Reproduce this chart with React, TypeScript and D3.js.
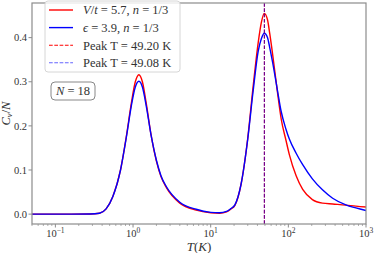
import React from 'react';
import * as d3 from 'd3';

// temperatures (K) and specific heat per site
const temps = [0.05, 0.16, 0.28, 0.37, 0.45, 0.55, 0.69, 0.82, 0.95, 1.07, 1.19, 1.32, 1.48, 1.72, 2.0, 2.29, 2.69, 4.0, 6.5, 10, 13, 16, 18, 20.5, 24.5, 30, 35, 41, 45, 49, 54, 57.5, 63, 72, 81, 93, 103, 126, 153, 204, 275, 372, 550, 741, 1000];
const cvRed = [0, 0, 0.0003, 0.002, 0.012, 0.04, 0.1, 0.176, 0.251, 0.3, 0.316, 0.3, 0.251, 0.176, 0.12, 0.085, 0.06, 0.025, 0.009, 0.003, 0.002, 0.005, 0.011, 0.02, 0.066, 0.172, 0.285, 0.39, 0.435, 0.455, 0.44, 0.41, 0.36, 0.28, 0.215, 0.168, 0.135, 0.087, 0.056, 0.033, 0.025, 0.023, 0.0205, 0.018, 0.016];
const cvBlue = [0, 0, 0.0003, 0.002, 0.012, 0.04, 0.1, 0.174, 0.245, 0.288, 0.301, 0.288, 0.245, 0.176, 0.122, 0.087, 0.062, 0.027, 0.011, 0.004, 0.003, 0.006, 0.012, 0.021, 0.066, 0.17, 0.275, 0.37, 0.398, 0.41, 0.4, 0.378, 0.342, 0.283, 0.232, 0.193, 0.17, 0.138, 0.112, 0.08, 0.055, 0.036, 0.021, 0.014, 0.008];
const peakRed = 49.2;
const peakBlue = 49.08;
const yTicks = [0.0, 0.1, 0.2, 0.3, 0.4];
const xTicks = [0.1, 1, 10, 100, 1000];
const xTickExp = ['\u22121', '0', '1', '2', '3'];

const W = 374, H = 253;
const margin = {left: 32, right: 8, top: 3, bottom: 29};
const font = '"Liberation Serif", "DejaVu Serif", serif';
const axisColor = '#8c8c8c';

export default function App() {
  const x = d3.scaleLog().domain([0.05, 1000]).range([margin.left, W - margin.right]);
  const y = d3.scaleLinear().domain([-0.0224, 0.4785]).range([H - margin.bottom, margin.top]);

  const line = d3.line<number>()
    .x((d, i) => x(temps[i]))
    .y(d => y(d))
    .curve(d3.curveMonotoneX);

  // minor ticks on the log axis
  const minor: number[] = [];
  for (let e = -2; e < 3; e++) {
    for (let k = 2; k < 10; k++) {
      const v = k * Math.pow(10, e);
      if (v >= 0.05 && v <= 1000) minor.push(v);
    }
  }

  const bottom = H - margin.bottom;
  const legendRows = [
    {label: 'red', dash: null, text: (<><tspan fontStyle="italic">V</tspan>/<tspan fontStyle="italic">t</tspan> = 5.7, <tspan fontStyle="italic">n</tspan> = 1/3</>)},
    {label: 'blue', dash: null, text: (<><tspan fontStyle="italic">ϵ</tspan> = 3.9, <tspan fontStyle="italic">n</tspan> = 1/3</>)},
    {label: 'red', dash: '3.7,1.6', text: (<>Peak T = {peakRed.toFixed(2)} K</>)},
    {label: 'blue', dash: '3.7,1.6', text: (<>Peak T = {peakBlue.toFixed(2)} K</>)},
  ];

  return (
    <svg width={W} height={H} style={{position: 'absolute', left: 0, top: 0}} fontFamily={font}>
      <rect width={W} height={H} fill="white" />
      <defs>
        <clipPath id="plot">
          <rect x={margin.left} y={margin.top} width={W - margin.left - margin.right} height={bottom - margin.top} />
        </clipPath>
      </defs>
      <g clipPath="url(#plot)">
        <path d={line(cvRed) || ''} fill="none" stroke="red" strokeWidth={1.4} />
        <path d={line(cvBlue) || ''} fill="none" stroke="blue" strokeWidth={1.4} />
        <line x1={x(peakRed)} x2={x(peakRed)} y1={margin.top} y2={bottom} stroke="red" strokeWidth={1.1} strokeDasharray="3.7,1.6" />
        <line x1={x(peakBlue)} x2={x(peakBlue)} y1={margin.top} y2={bottom} stroke="blue" strokeWidth={1.1} strokeDasharray="3.7,1.6" opacity={0.6} />
      </g>

      {/* frame */}
      <rect x={margin.left} y={margin.top} width={W - margin.left - margin.right} height={bottom - margin.top} fill="none" stroke={axisColor} strokeWidth={1.2} />

      {/* y ticks */}
      {yTicks.map(t => (
        <g key={t}>
          <line x1={margin.left - 3.5} x2={margin.left} y1={y(t)} y2={y(t)} stroke={axisColor} strokeWidth={1} />
          <text x={margin.left - 5} y={y(t)} dy="0.35em" textAnchor="end" fontSize={10.5} fill="#333">{t.toFixed(1)}</text>
        </g>
      ))}
      {/* x ticks */}
      {minor.map(t => (
        <line key={'m' + t} x1={x(t)} x2={x(t)} y1={bottom} y2={bottom + 2} stroke={axisColor} strokeWidth={0.7} />
      ))}
      {xTicks.map((t, i) => (
        <g key={t}>
          <line x1={x(t)} x2={x(t)} y1={bottom} y2={bottom + 3.5} stroke={axisColor} strokeWidth={1} />
          <text x={x(t)} y={bottom + 13} textAnchor="middle" fontSize={10.5} fill="#333">
            10<tspan dy={-4} fontSize={7.5}>{xTickExp[i]}</tspan>
          </text>
        </g>
      ))}

      {/* axis labels */}
      <text x={(margin.left + W - margin.right) / 2} y={H - 2} textAnchor="middle" fontSize={13} fill="#333">
        <tspan fontStyle="italic">T</tspan>(<tspan fontStyle="italic">K</tspan>)
      </text>
      <text transform={`translate(10,${(margin.top + bottom) / 2}) rotate(-90)`} textAnchor="middle" fontSize={12.5} fill="#333">
        <tspan fontStyle="italic">C</tspan><tspan fontStyle="italic" fontSize={8.5} dy={2}>v</tspan><tspan dy={-2}>/</tspan><tspan fontStyle="italic">N</tspan>
      </text>

      {/* legend */}
      <rect x={45} y={1} width={135} height={71} rx={3} fill="white" fillOpacity={0.8} stroke="#d6d6d6" strokeWidth={1} />
      {legendRows.map((r, i) => {
        const ly = 10 + i * 17.6;
        return (
          <g key={i}>
            <line x1={49} x2={73} y1={ly} y2={ly} stroke={r.label} strokeWidth={r.dash ? 1.1 : 1.4} strokeDasharray={r.dash || undefined} opacity={r.label === 'blue' && r.dash ? 0.6 : 1} />
            <text x={83} y={ly} dy="0.35em" fontSize={12.5} fill="#333">{r.text}</text>
          </g>
        );
      })}

      {/* N label */}
      <rect x={51} y={82} width={44} height={18} rx={4} fill="white" stroke="#888" strokeWidth={1} />
      <text x={73} y={91} dy="0.35em" textAnchor="middle" fontSize={12.5} fill="#333">
        <tspan fontStyle="italic">N</tspan> = 18
      </text>
    </svg>
  );
}
